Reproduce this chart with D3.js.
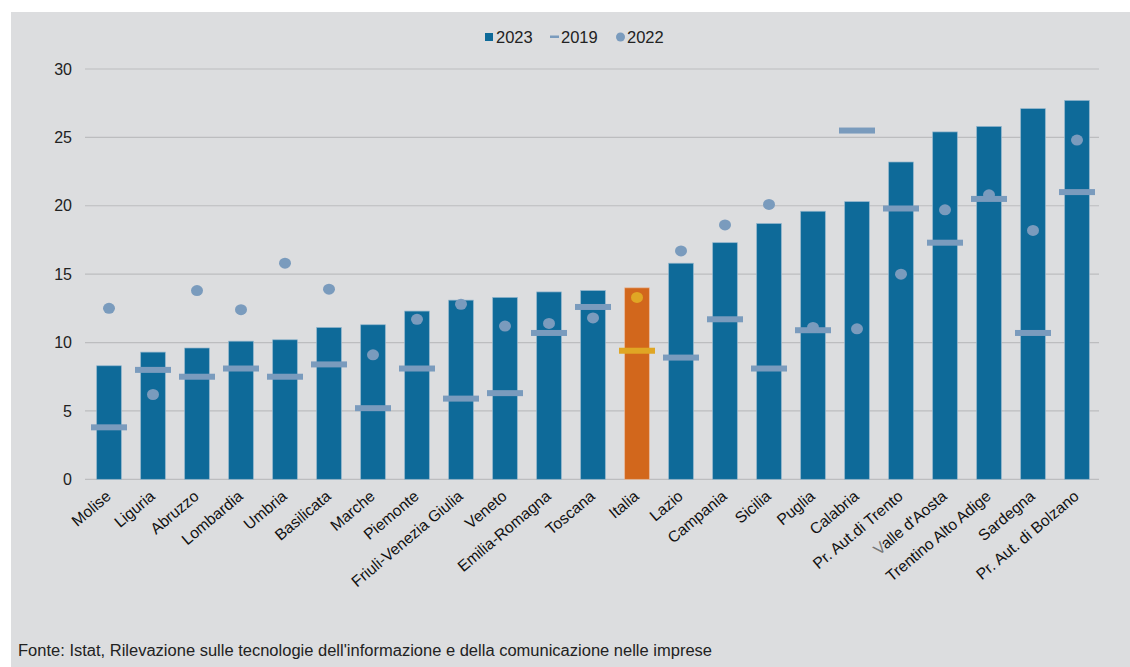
<!DOCTYPE html>
<html><head><meta charset="utf-8">
<script src="https://cdn.jsdelivr.net/npm/d3@7"></script>
<style>body{margin:0;background:#fff}svg{display:block}</style>
</head><body>
<svg id="c" width="1130" height="667"></svg>
<script>
const categories = ["Molise","Liguria","Abruzzo","Lombardia","Umbria","Basilicata","Marche","Piemonte","Friuli-Venezia Giulia","Veneto","Emilia-Romagna","Toscana","Italia","Lazio","Campania","Sicilia","Puglia","Calabria","Pr. Aut.di Trento","Valle d'Aosta","Trentino Alto Adige","Sardegna","Pr. Aut. di Bolzano"];
const values2023 = [8.3,9.3,9.6,10.1,10.2,11.1,11.3,12.3,13.1,13.3,13.7,13.8,14.0,15.8,17.3,18.7,19.6,20.3,23.2,25.4,25.8,27.1,27.7];
const values2019 = [3.8,8.0,7.5,8.1,7.5,8.4,5.2,8.1,5.9,6.3,10.7,12.6,9.4,8.9,11.7,8.1,10.9,25.5,19.8,17.3,20.5,10.7,21.0];
const values2022 = [12.5,6.2,13.8,12.4,15.8,13.9,9.1,11.7,12.8,11.2,11.4,11.8,13.3,16.7,18.6,20.1,11.1,11.0,15.0,19.7,20.8,18.2,24.8];
const yTicks = [0,5,10,15,20,25,30];
const legendLabels = ["2023","2019","2022"];
const source = "Fonte: Istat, Rilevazione sulle tecnologie dell'informazione e della comunicazione nelle imprese";

const svg = d3.select("#c");
const font = "'Liberation Sans', Arial, sans-serif";
svg.append("rect").attr("x",11).attr("y",12).attr("width",1119).attr("height",655).attr("fill","#dcdddf");

const x = d3.scaleBand().domain(categories).range([87,1099]).paddingInner(0.44).paddingOuter(0.22);
const y = d3.scaleLinear().domain([0,30]).range([479.3,69]);

const barColor = "#0e6a99", hiBar = "#d2671c", mark = "#7a9bbd", hiMark = "#e0a624";

// grid
svg.append("g").selectAll("line").data(yTicks).join("line")
  .attr("x1",85).attr("x2",1099).attr("y1",d=>y(d)).attr("y2",d=>y(d))
  .attr("stroke","#bcbdbf").attr("stroke-width",1.2);
svg.append("g").selectAll("text").data(yTicks).join("text")
  .attr("x",72).attr("y",d=>y(d)).attr("dy","0.35em").attr("text-anchor","end")
  .attr("font-family",font).attr("font-size",16).attr("fill","#222").text(d=>d);

const cx = c => x(c)+x.bandwidth()/2;
// bars
svg.append("g").selectAll("rect").data(categories).join("rect")
  .attr("x",c=>x(c)).attr("width",x.bandwidth())
  .attr("y",(c,i)=>y(values2023[i])).attr("height",(c,i)=>y(0)-y(values2023[i]))
  .attr("fill",c=>c==="Italia"?hiBar:barColor)
  .attr("stroke",c=>c==="Italia"?"#e9b89a":"#8fb4cc").attr("stroke-width",0.7);
// 2019 markers
svg.append("g").selectAll("rect").data(categories).join("rect")
  .attr("x",c=>cx(c)-18).attr("width",36)
  .attr("y",(c,i)=>y(values2019[i])-3).attr("height",6)
  .attr("fill",c=>c==="Italia"?hiMark:mark);
// 2022 dots
svg.append("g").selectAll("ellipse").data(categories).join("ellipse")
  .attr("cx",cx).attr("cy",(c,i)=>y(values2022[i])).attr("rx",6).attr("ry",5.5)
  .attr("fill",c=>c==="Italia"?hiMark:mark);

// x labels
const xl = svg.append("g").selectAll("text").data(categories).join("text")
  .attr("transform",c=>`translate(${cx(c)+3},${498}) rotate(-40)`)
  .attr("text-anchor","end").attr("font-family",font).attr("font-size",15.7).attr("fill","#111");
xl.each(function(c){
  const t = d3.select(this);
  if (c.startsWith("Valle")) {
    t.append("tspan").attr("fill","#777").text(c[0]);
    t.append("tspan").text(c.slice(1));
  } else t.text(c);
});

// legend
const lg = svg.append("g").attr("font-family",font).attr("font-size",16.5).attr("fill","#222");
lg.append("rect").attr("x",485).attr("y",33).attr("width",8).attr("height",8).attr("fill",barColor);
lg.append("text").attr("x",496).attr("y",42.5).text(legendLabels[0]);
lg.append("rect").attr("x",550).attr("y",35.5).attr("width",9).attr("height",2.5).attr("fill",mark);
lg.append("text").attr("x",561).attr("y",42.5).text(legendLabels[1]);
lg.append("circle").attr("cx",620.5).attr("cy",37).attr("r",4.5).attr("fill",mark);
lg.append("text").attr("x",627).attr("y",42.5).text(legendLabels[2]);

// source
svg.append("text").attr("x",18).attr("y",656).attr("font-family","'Liberation Sans Narrow', 'Liberation Sans', Arial, sans-serif")
  .attr("font-size",16).attr("fill","#222").attr("textLength",694).attr("lengthAdjust","spacingAndGlyphs").text(source);
</script>
</body></html>
